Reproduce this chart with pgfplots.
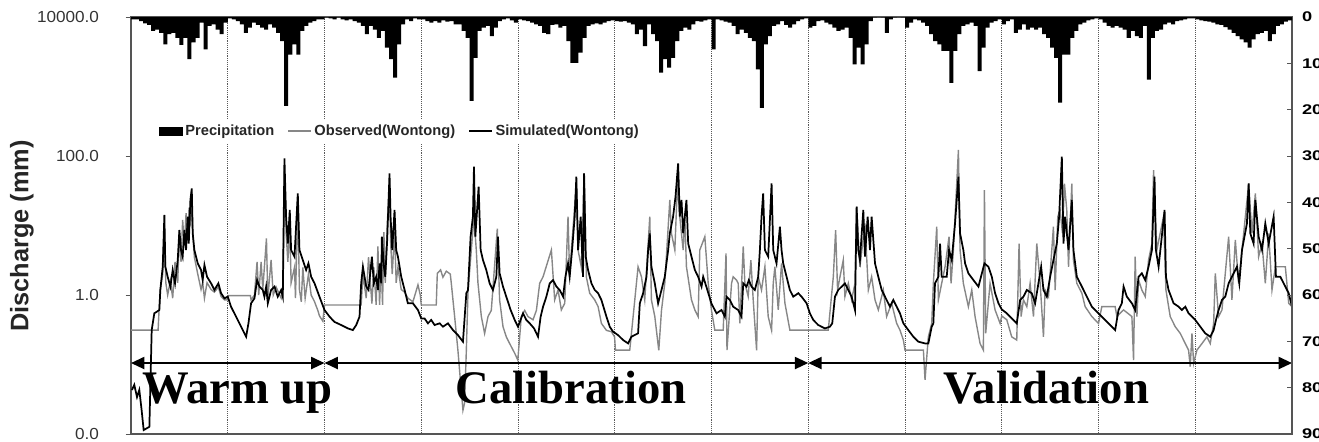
\documentclass[border=0pt]{standalone}
\usepackage{pgfplots}
\pgfplotsset{compat=1.18}
\usepackage{pgfplotstable}
\usepackage{fontspec}
\setmainfont{Liberation Sans}
\newfontfamily\serifbf{Liberation Serif}
\usetikzlibrary{arrows.meta}

\definecolor{obsgray}{HTML}{878787}
\definecolor{framegray}{HTML}{555555}

% Simulated daily discharge (mm), time in years from start of record
\pgfplotstableread{
t Q
0.010 0.043
0.034 0.051
0.062 0.034
0.086 0.043
0.110 0.022
0.131 0.0114
0.190 0.0127
0.214 0.313
0.241 0.545
0.293 0.608
0.303 1.18
0.328 2.55
0.345 14.2
0.355 2.55
0.379 1.83
0.407 1.32
0.431 2.29
0.455 1.47
0.483 3.18
0.500 8.6
0.517 4.44
0.534 3.56
0.552 8.6
0.569 4.44
0.586 13.4
0.597 5.5
0.614 23.3
0.628 34.2
0.638 7.7
0.655 4.44
0.690 2.85
0.724 2.29
0.741 1.64
0.759 2.70
0.786 1.83
0.828 1.47
0.862 1.18
0.903 1.47
0.931 1.06
0.966 0.895
1.000 0.946
1.034 0.679
1.086 0.488
1.138 0.350
1.190 0.251
1.214 0.391
1.241 0.759
1.276 0.895
1.303 1.64
1.328 1.32
1.362 1.18
1.379 0.946
1.397 1.32
1.414 0.759
1.448 1.18
1.483 1.32
1.517 0.946
1.552 1.18
1.569 0.946
1.586 92.5
1.603 13.4
1.621 5.5
1.641 16.7
1.655 4.44
1.690 3.56
1.724 29.0
1.741 4.44
1.776 3.18
1.810 2.29
1.834 2.85
1.862 1.83
1.897 1.47
1.948 0.946
2.000 0.608
2.052 0.488
2.103 0.41
2.172 0.370
2.241 0.331
2.293 0.313
2.328 0.370
2.362 0.488
2.379 1.47
2.397 2.55
2.431 1.32
2.455 1.18
2.490 3.56
2.510 1.47
2.534 1.83
2.552 1.18
2.569 2.85
2.586 1.47
2.593 6.9
2.614 2.55
2.628 1.83
2.648 6.2
2.672 56.2
2.683 13.4
2.700 4.44
2.724 16.7
2.741 4.44
2.759 3.56
2.793 1.83
2.828 1.18
2.862 0.759
2.914 0.759
2.966 0.608
3.000 0.46
3.034 0.46
3.069 0.391
3.103 0.437
3.138 0.370
3.190 0.391
3.224 0.350
3.276 0.391
3.328 0.313
3.379 0.265
3.431 0.213
3.466 1.06
3.483 1.18
3.510 6.9
3.534 13.4
3.545 70.2
3.559 6.9
3.593 36.1
3.614 4.44
3.638 3.18
3.672 2.29
3.707 1.47
3.741 1.18
3.776 1.83
3.793 6.9
3.810 2.05
3.845 1.32
3.890 0.848
3.924 0.608
3.966 0.437
4.000 0.350
4.052 0.545
4.086 0.437
4.121 0.391
4.166 0.331
4.207 0.251
4.234 0.488
4.259 0.679
4.293 0.946
4.328 1.47
4.362 1.64
4.397 1.32
4.431 1.18
4.466 0.946
4.490 1.83
4.517 2.85
4.534 1.83
4.559 4.44
4.586 13.4
4.603 50.4
4.621 4.44
4.648 13.4
4.672 1.83
4.683 56.2
4.700 3.56
4.724 2.29
4.759 1.47
4.793 1.18
4.828 1.06
4.862 0.848
4.914 0.488
4.948 0.350
4.983 0.296
5.034 0.265
5.086 0.225
5.138 0.201
5.172 0.251
5.241 0.281
5.259 0.759
5.293 1.06
5.328 1.83
5.345 4.44
5.362 7.7
5.379 2.55
5.414 1.47
5.448 0.759
5.483 1.18
5.517 1.83
5.552 4.44
5.569 7.7
5.603 13.4
5.628 26.0
5.655 78.3
5.672 13.4
5.690 23.3
5.707 7.7
5.724 13.4
5.741 23.3
5.759 5.5
5.793 3.56
5.828 2.29
5.862 1.83
5.897 1.32
5.914 1.83
5.948 1.30
6.000 0.75
6.052 0.545
6.103 0.608
6.138 0.488
6.155 0.946
6.190 0.848
6.224 0.679
6.276 0.608
6.310 0.488
6.328 1.47
6.362 1.32
6.386 1.64
6.414 1.32
6.448 1.18
6.483 1.83
6.500 4.44
6.517 13.4
6.534 29.0
6.552 4.44
6.586 3.56
6.621 40.4
6.638 4.44
6.672 2.85
6.707 9.6
6.724 4.44
6.741 2.85
6.776 1.83
6.810 1.18
6.845 0.946
6.897 1.06
6.931 0.946
6.983 0.759
7.017 0.545
7.052 0.437
7.103 0.370
7.172 0.331
7.224 0.350
7.248 0.391
7.276 0.946
7.310 1.18
7.379 1.47
7.414 1.18
7.448 0.946
7.483 0.608
7.500 18.7
7.517 4.44
7.534 3.18
7.569 16.7
7.586 3.56
7.614 13.4
7.638 4.44
7.655 13.4
7.690 2.85
7.724 1.83
7.759 1.18
7.810 0.848
7.845 0.679
7.879 0.848
7.914 0.679
7.948 0.545
7.983 0.391
8.034 0.313
8.086 0.251
8.138 0.213
8.207 0.201
8.241 0.201
8.276 0.350
8.293 0.391
8.310 1.47
8.345 1.83
8.362 5.5
8.379 1.83
8.431 1.83
8.455 4.44
8.483 3.18
8.517 10.7
8.552 50.4
8.569 7.7
8.603 4.44
8.621 2.85
8.655 2.05
8.707 1.64
8.759 1.32
8.821 2.85
8.862 2.55
8.897 1.83
8.931 1.06
8.966 0.759
9.000 0.62
9.052 0.545
9.086 0.488
9.155 0.391
9.190 0.848
9.224 0.946
9.259 1.18
9.310 1.06
9.345 0.759
9.379 1.47
9.407 2.55
9.431 1.18
9.466 0.946
9.500 1.83
9.534 3.18
9.569 5.5
9.593 13.4
9.621 97.7
9.638 5.5
9.655 13.4
9.690 4.44
9.724 23.3
9.741 4.44
9.776 1.83
9.828 1.32
9.879 0.946
9.931 0.679
10.000 0.545
10.069 0.437
10.138 0.350
10.172 0.313
10.207 0.608
10.241 0.759
10.259 1.32
10.293 0.946
10.345 0.759
10.379 0.608
10.414 1.83
10.448 2.05
10.483 1.64
10.517 2.55
10.552 4.44
10.579 50.4
10.593 4.44
10.621 2.55
10.683 16.7
10.697 1.83
10.724 1.18
10.776 0.759
10.828 0.679
10.862 0.608
10.897 0.679
10.931 0.545
10.966 0.488
11.000 0.437
11.052 0.350
11.103 0.281
11.155 0.251
11.190 0.313
11.214 0.437
11.241 0.608
11.276 0.848
11.310 0.946
11.345 1.47
11.379 1.83
11.431 2.55
11.455 1.47
11.483 4.44
11.534 10.7
11.552 40.4
11.569 7.7
11.603 5.5
11.621 23.3
11.655 6.9
11.690 4.44
11.724 10.7
11.759 5.5
11.810 13.4
11.834 1.83
11.879 1.83
11.914 1.47
11.966 1.06
12.000 0.679
}\simtable

% Observed daily discharge (mm) at Wontong
\pgfplotstableread{
t Q
0.000 0.313
0.280 0.313
0.290 0.60
0.303 1.20
0.328 2.00
0.345 10.0
0.360 1.50
0.379 1.00
0.407 1.60
0.431 0.90
0.455 3.00
0.483 1.50
0.500 8.00
0.517 3.00
0.534 12.0
0.552 5.00
0.569 15.0
0.586 6.00
0.600 18.0
0.614 10.0
0.628 30.0
0.638 8.00
0.655 3.50
0.690 2.00
0.724 1.20
0.741 1.50
0.759 0.90
0.786 1.50
0.828 1.20
0.862 1.10
0.903 1.30
0.931 0.95
0.966 0.85
0.995 0.85
1.000 0.98
1.234 0.98
1.241 0.85
1.276 1.00
1.303 3.00
1.320 1.00
1.345 3.00
1.362 1.20
1.400 6.50
1.414 0.90
1.448 3.20
1.470 1.00
1.500 1.30
1.552 0.90
1.569 1.20
1.586 60.0
1.603 8.00
1.621 3.00
1.641 10.0
1.655 1.50
1.690 2.50
1.700 0.90
1.724 20.0
1.741 1.20
1.760 0.80
1.776 2.50
1.800 0.90
1.834 2.00
1.862 1.00
1.897 0.80
1.931 0.60
1.948 0.50
1.983 0.42
2.000 0.718
2.379 0.718
2.397 2.00
2.431 0.90
2.455 3.50
2.490 0.75
2.510 2.50
2.534 0.72
2.552 5.00
2.569 0.72
2.586 3.00
2.600 0.72
2.614 8.00
2.628 1.50
2.648 10.0
2.672 40.0
2.683 6.00
2.700 2.00
2.724 8.00
2.741 1.50
2.759 2.50
2.793 1.20
2.828 1.10
2.862 0.90
2.914 0.80
2.966 1.40
2.990 1.00
3.000 0.718
3.155 0.718
3.166 2.05
3.200 2.30
3.224 1.80
3.259 2.20
3.300 2.00
3.310 1.50
3.345 0.49
3.379 0.16
3.407 0.054
3.431 0.022
3.448 0.028
3.466 0.16
3.483 1.10
3.517 4.40
3.545 13.4
3.569 4.40
3.586 1.50
3.621 0.49
3.655 0.28
3.690 0.49
3.724 0.60
3.786 9.00
3.810 0.85
3.845 0.35
3.879 0.25
3.914 0.20
3.966 0.145
3.998 0.116
4.034 0.49
4.069 0.60
4.103 0.49
4.155 0.44
4.190 0.60
4.224 1.47
4.259 1.83
4.345 4.44
4.379 0.85
4.414 1.18
4.448 0.61
4.483 0.76
4.517 13.4
4.534 1.83
4.552 4.40
4.603 40.0
4.621 4.40
4.655 2.50
4.683 56.0
4.707 1.80
4.741 1.06
4.793 0.85
4.828 0.68
4.862 0.39
4.914 0.31
4.966 0.296
4.998 0.25
5.007 0.161
5.155 0.161
5.190 0.49
5.241 2.55
5.276 1.83
5.310 0.85
5.362 13.4
5.379 0.85
5.414 0.49
5.455 0.16
5.483 0.60
5.517 1.47
5.569 23.3
5.586 7.70
5.621 4.44
5.648 40.0
5.672 13.4
5.707 4.44
5.724 13.4
5.741 2.55
5.793 0.85
5.828 0.61
5.862 0.49
5.879 4.44
5.931 6.90
5.966 1.47
6.000 0.60
6.034 0.313
6.121 0.313
6.150 3.97
6.160 0.161
6.207 1.47
6.224 1.83
6.259 1.64
6.276 1.47
6.293 0.39
6.328 5.00
6.345 1.47
6.379 0.95
6.407 3.18
6.431 0.85
6.466 0.16
6.483 1.83
6.517 1.18
6.552 2.55
6.586 0.49
6.621 0.31
6.638 1.47
6.655 2.55
6.690 0.61
6.724 2.85
6.759 0.76
6.810 0.313
7.207 0.313
7.259 1.83
7.283 8.60
7.303 1.18
7.328 1.83
7.362 3.18
7.379 0.95
7.414 1.47
7.448 0.85
7.483 1.47
7.500 18.7
7.534 2.55
7.586 10.7
7.621 1.18
7.655 1.83
7.690 0.85
7.724 0.61
7.776 1.18
7.810 0.49
7.862 0.76
7.914 0.39
7.948 0.313
7.983 0.225
8.000 0.161
8.190 0.161
8.207 0.060
8.241 0.25
8.276 0.39
8.293 1.47
8.328 9.60
8.345 0.85
8.379 1.47
8.414 2.55
8.455 6.90
8.476 1.47
8.500 4.44
8.552 122
8.569 4.44
8.603 1.47
8.655 0.68
8.690 1.18
8.724 0.49
8.776 0.20
8.810 0.161
8.821 32.4
8.834 0.28
8.879 1.47
8.931 0.61
8.983 0.39
9.000 0.50
9.052 0.44
9.103 0.25
9.155 0.225
9.179 5.50
9.200 0.49
9.224 0.85
9.259 0.68
9.293 1.47
9.328 0.49
9.362 5.50
9.397 1.47
9.431 0.25
9.448 1.18
9.483 0.95
9.534 9.60
9.552 1.18
9.579 13.4
9.603 16.7
9.628 7.70
9.648 40.0
9.672 16.7
9.690 2.55
9.724 40.0
9.741 3.18
9.776 1.47
9.828 1.06
9.862 0.68
9.931 0.49
10.000 0.39
10.034 0.68
10.172 0.68
10.190 0.49
10.259 0.61
10.345 0.49
10.362 0.116
10.379 3.56
10.397 0.49
10.414 1.64
10.448 1.18
10.483 0.95
10.517 3.18
10.552 5.50
10.569 62.8
10.603 4.44
10.672 13.4
10.697 1.18
10.741 0.49
10.793 0.35
10.845 0.28
10.897 0.20
10.931 0.161
10.948 0.093
10.966 0.28
10.983 0.104
11.017 0.161
11.069 0.20
11.121 0.25
11.155 0.20
11.190 0.39
11.207 2.05
11.241 0.49
11.276 0.61
11.345 6.90
11.379 0.85
11.414 6.20
11.448 1.47
11.483 4.44
11.552 40.0
11.586 7.70
11.621 29.0
11.655 3.56
11.690 5.50
11.724 1.47
11.759 7.70
11.793 1.18
11.828 2.55
11.931 2.55
11.966 0.76
12.000 0.68
}\obstable

% Semi-monthly precipitation (mm): one row per year, 24 periods each
\pgfplotstableread[row sep=\\]{
k P\\
0 5\\1 5\\2 9\\3 14\\4 17\\5 30\\6 27\\7 34\\8 59\\9 37\\10 34\\11 45\\12 60\\13 45\\14 91\\15 55\\16 45\\17 12\\18 70\\19 19\\20 16\\21 27\\22 37\\23 12\\
24 3\\25 5\\26 9\\27 16\\28 34\\29 23\\30 12\\31 17\\32 23\\33 27\\34 16\\35 23\\36 34\\37 52\\38 192\\39 81\\40 59\\41 81\\42 30\\43 19\\44 12\\45 9\\46 5\\47 5\\
48 1\\49 3\\50 5\\51 1\\52 5\\53 7\\54 5\\55 9\\56 12\\57 19\\58 37\\59 19\\60 27\\61 45\\62 30\\63 66\\64 91\\65 131\\66 59\\67 16\\68 5\\69 9\\70 3\\71 5\\
72 5\\73 9\\74 12\\75 9\\76 12\\77 7\\78 10\\79 9\\80 16\\81 16\\82 30\\83 45\\84 181\\85 88\\86 30\\87 23\\88 19\\89 41\\90 23\\91 9\\92 5\\93 3\\94 7\\95 12\\
96 5\\97 7\\98 9\\99 12\\100 16\\101 19\\102 34\\103 37\\104 17\\105 16\\106 23\\107 19\\108 52\\109 99\\110 99\\111 77\\112 45\\113 19\\114 16\\115 14\\116 16\\117 12\\118 9\\119 7\\
120 9\\121 10\\122 9\\123 12\\124 16\\125 37\\126 27\\127 63\\128 16\\129 37\\130 52\\131 120\\132 91\\133 109\\134 88\\135 52\\136 30\\137 23\\138 27\\139 16\\140 9\\141 10\\142 7\\143 5\\
144 70\\145 5\\146 7\\147 10\\148 12\\149 19\\150 37\\151 27\\152 34\\153 45\\154 52\\155 113\\156 196\\157 59\\158 41\\159 19\\160 16\\161 9\\162 17\\163 23\\164 16\\165 9\\166 5\\167 3\\
168 23\\169 19\\170 9\\171 7\\172 12\\173 16\\174 23\\175 30\\176 27\\177 23\\178 45\\179 102\\180 66\\181 102\\182 59\\183 9\\184 1\\185 0\\186 1\\187 34\\188 5\\189 1\\190 0\\191 1\\
192 23\\193 12\\194 5\\195 7\\196 12\\197 19\\198 37\\199 52\\200 59\\201 73\\202 73\\203 142\\204 73\\205 37\\206 19\\207 16\\208 12\\209 19\\210 117\\211 66\\212 23\\213 12\\214 9\\215 5\\
216 16\\217 9\\218 5\\219 34\\220 27\\221 16\\222 27\\223 23\\224 27\\225 23\\226 37\\227 45\\228 66\\229 88\\230 185\\231 81\\232 81\\233 45\\234 30\\235 16\\236 12\\237 7\\238 5\\239 3\\
240 5\\241 12\\242 19\\243 23\\244 19\\245 23\\246 27\\247 45\\248 30\\249 41\\250 45\\251 19\\252 135\\253 45\\254 30\\255 27\\256 16\\257 12\\258 16\\259 9\\260 7\\261 5\\262 3\\263 3\\
264 5\\265 7\\266 9\\267 10\\268 12\\269 16\\270 17\\271 22\\272 27\\273 34\\274 41\\275 48\\276 55\\277 66\\278 48\\279 37\\280 34\\281 30\\282 52\\283 37\\284 19\\285 16\\286 10\\287 7\\
288 7\\
}\preciptable

\begin{document}
\begin{tikzpicture}
\useasboundingbox (-98.25pt,-6pt) rectangle (891pt,325.5pt);

% Discharge on a log scale
\begin{axis}[
  at={(0pt,0pt)}, anchor=south west,
  scale only axis, width=870.75pt, height=312.75pt,
  xmin=0, xmax=12,
  ymode=log, ymin=0.01, ymax=10000,
  xtick={1,2,...,11}, xticklabels={},
  x tick style={draw=none},
  xmajorgrids,
  major x grid style={densely dotted, black!65, line width=0.6pt},
  ytick={0.01,1,100,10000},
  yticklabels={\scalebox{1.07}[1]{0.0},\scalebox{1.07}[1]{1.0},\scalebox{1.07}[1]{100.0},\scalebox{1.07}[1]{10000.0}},
  yminorticks=false,
  ytick pos=left,
  tick align=outside,
  major tick length=4pt,
  y tick style={framegray, line width=0.6pt},
  yticklabel style={font=\fontsize{12}{14}\selectfont, text=black!80, xshift=-16.5pt},
  axis line style={framegray, line width=0.9pt},
  ylabel={Discharge (mm)},
  ylabel style={font=\bfseries\fontsize{19}{22}\selectfont, text=black!85,
    at={(axis description cs:-0.094,0.475)}, anchor=center},
]
\addplot[obsgray, line width=1.05pt] table[x=t, y=Q] {\obstable};
\addplot[black, line width=1.3pt] table[x=t, y=Q] {\simtable};

\draw[line width=1.5pt, {Triangle[length=10pt,width=9pt]}-{Triangle[length=10pt,width=9pt]}]
  (axis cs:0,0.105) -- (axis cs:2,0.105);
\draw[line width=1.5pt, {Triangle[length=10pt,width=9pt]}-{Triangle[length=10pt,width=9pt]}]
  (axis cs:2,0.105) -- (axis cs:7,0.105);
\draw[line width=1.5pt, {Triangle[length=10pt,width=9pt]}-{Triangle[length=10pt,width=9pt]}]
  (axis cs:7,0.105) -- (axis cs:12,0.105);
\node[anchor=base, font=\serifbf\bfseries\fontsize{35}{40}\selectfont, inner sep=0pt]
  at (axis cs:1.10,0.0279) {Warm up};
\node[anchor=base, font=\serifbf\bfseries\fontsize{35}{40}\selectfont, inner sep=0pt]
  at (axis cs:4.55,0.0279) {Calibration};
\node[anchor=base, font=\serifbf\bfseries\fontsize{35}{40}\selectfont, inner sep=0pt]
  at (axis cs:9.46,0.0279) {Validation};
\end{axis}

% Semi-monthly precipitation, hanging from the top on a reversed scale
\begin{axis}[
  at={(0pt,0pt)}, anchor=south west,
  scale only axis, width=870.75pt, height=312.75pt,
  xmin=0, xmax=288,
  ymin=0, ymax=900, y dir=reverse,
  axis y line*=right, axis x line=none,
  ytick={0,100,...,900},
  yticklabels={\scalebox{1.3}[1]{0},\scalebox{1.3}[1]{100},\scalebox{1.3}[1]{200},\scalebox{1.3}[1]{300},\scalebox{1.3}[1]{400},\scalebox{1.3}[1]{500},\scalebox{1.3}[1]{600},\scalebox{1.3}[1]{700},\scalebox{1.3}[1]{800},\scalebox{1.3}[1]{900}},
  tick align=inside,
  major tick length=4pt,
  y tick style={framegray, line width=0.6pt},
  yticklabel style={font=\bfseries\fontsize{10.5}{12}\selectfont, xshift=4pt},
  axis line style={framegray, line width=0.9pt},
  legend columns=3,
  legend style={at={(0.022,0.755)}, anchor=north west, draw=none, fill=white,
    font=\bfseries\fontsize{11}{13}\selectfont, text=black!85, inner sep=2pt,
    /tikz/every even column/.append style={column sep=8pt}},
  legend cell align=left,
]
\addplot[const plot, fill=black, draw=none, area legend]
  table[x=k, y=P] {\preciptable} \closedcycle;
\addlegendentry{Precipitation}
\addlegendimage{obsgray, line width=1.05pt}
\addlegendentry{Observed(Wontong)}
\addlegendimage{black, line width=1.3pt}
\addlegendentry{Simulated(Wontong)}
\end{axis}
\end{tikzpicture}
\end{document}
